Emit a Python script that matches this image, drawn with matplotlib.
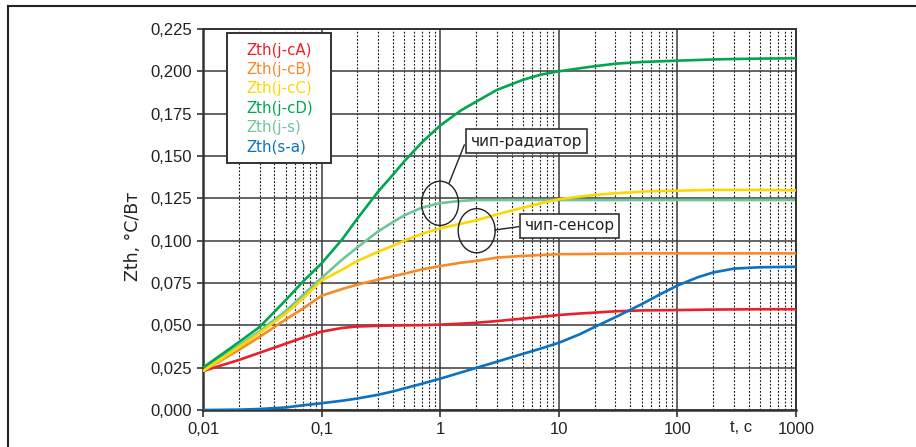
import matplotlib
matplotlib.use("Agg")
import matplotlib.pyplot as plt
from matplotlib.lines import Line2D
from matplotlib.patches import Ellipse, Rectangle
from matplotlib.ticker import FixedLocator, LogLocator, NullFormatter

# ----------------------------------------------------
# Data
# ----------------------------------------------------

t = [0.01, 0.02, 0.03, 0.05, 0.07, 0.1, 0.15, 0.2, 0.3, 0.4, 0.5, 0.7, 1, 1.5,
     2, 3, 5, 7, 10, 15, 20, 30, 50, 70, 100, 150, 200, 300, 500, 1000]

z_jcA = [0.023, 0.0295, 0.0338, 0.0392, 0.0428, 0.0463, 0.0485, 0.0493, 0.0497,
         0.0499, 0.0500, 0.0501, 0.0504, 0.0510, 0.0515, 0.0525, 0.0540, 0.0550,
         0.0561, 0.0570, 0.0575, 0.0583, 0.0588, 0.0589, 0.0590, 0.0592, 0.0593,
         0.0594, 0.0595, 0.0595]
z_jcB = [0.023, 0.0354, 0.0432, 0.0535, 0.0600, 0.0675, 0.0715, 0.0740, 0.0770,
         0.0790, 0.0805, 0.0830, 0.0850, 0.0870, 0.0880, 0.0900, 0.0910, 0.0915,
         0.0920, 0.0921, 0.0922, 0.0923, 0.0925, 0.0925, 0.0925, 0.0925, 0.0925,
         0.0925, 0.0925, 0.0925]
z_jcC = [0.023, 0.0370, 0.0455, 0.0570, 0.0660, 0.0765, 0.0830, 0.0880, 0.0935,
         0.0970, 0.1000, 0.1040, 0.1073, 0.1100, 0.1120, 0.1155, 0.1195, 0.1220,
         0.1245, 0.1260, 0.1270, 0.1280, 0.1290, 0.1293, 0.1295, 0.1298, 0.1300,
         0.1300, 0.1300, 0.1297]
z_jcD = [0.025, 0.0400, 0.0490, 0.0650, 0.0760, 0.0866, 0.1010, 0.1130, 0.1290,
         0.1390, 0.1470, 0.1580, 0.1680, 0.1770, 0.1820, 0.1890, 0.1950, 0.1980,
         0.2000, 0.2018, 0.2030, 0.2045, 0.2055, 0.2059, 0.2063, 0.2067, 0.2070,
         0.2073, 0.2075, 0.2077]
z_js = [0.025, 0.0380, 0.0465, 0.0585, 0.0680, 0.0780, 0.0890, 0.0960, 0.1055,
        0.1110, 0.1150, 0.1195, 0.1222, 0.1235, 0.1240, 0.1240, 0.1240, 0.1240,
        0.1240, 0.1240, 0.1240, 0.1240, 0.1240, 0.1240, 0.1240, 0.1240, 0.1240,
        0.1240, 0.1240, 0.1240]
z_sa = [0.0, 0.0002, 0.0006, 0.0015, 0.0028, 0.0040, 0.0055, 0.0068, 0.0090,
        0.0110, 0.0128, 0.0155, 0.0185, 0.0222, 0.0248, 0.0285, 0.0332, 0.0362,
        0.0397, 0.0447, 0.0490, 0.0548, 0.0625, 0.0680, 0.0735, 0.0785, 0.0812,
        0.0835, 0.0843, 0.0846]

series = [
    ("Zth(j-cA)", z_jcA, "#e8202a", 3),
    ("Zth(j-cB)", z_jcB, "#f68a28", 3),
    ("Zth(j-cC)", z_jcC, "#fcd800", 4),
    ("Zth(j-cD)", z_jcD, "#00a650", 3),
    ("Zth(j-s)", z_js, "#72c598", 2),
    ("Zth(s-a)", z_sa, "#0a72c0", 3),
]

y_ticks = [0.0, 0.025, 0.05, 0.075, 0.1, 0.125, 0.15, 0.175, 0.2, 0.225]
x_ticks = [0.01, 0.1, 1, 10, 100, 1000]
x_labels = ["0,01", "0,1", "1", "10", "100", "1000"]

# ----------------------------------------------------
# Plot
# ----------------------------------------------------

fig = plt.figure(figsize=(9.16, 4.47), dpi=100)
ax = fig.add_axes([203 / 916, 37 / 447, 593 / 916, 381 / 447])

for label, z, color, zo in series:
    ax.plot(t, z, color=color, lw=1.9, label=label, zorder=zo,
            solid_capstyle="butt", solid_joinstyle="round")

ax.set_xscale("log")
ax.set_xlim(0.01, 1000)
ax.set_ylim(0, 0.225)

ax.xaxis.set_major_locator(FixedLocator(x_ticks))
ax.set_xticklabels(x_labels)
ax.xaxis.set_minor_locator(LogLocator(base=10, subs=range(2, 10), numticks=20))
ax.xaxis.set_minor_formatter(NullFormatter())
ax.set_yticks(y_ticks)
ax.set_yticklabels([f"{v:.3f}".replace(".", ",") for v in y_ticks])

ax.tick_params(axis="both", which="major", direction="out", color="#333333",
               width=1.2, labelsize=12, pad=4)
ax.tick_params(axis="x", which="major", length=5)
ax.tick_params(axis="y", which="major", length=4)
ax.tick_params(axis="x", which="minor", length=0)
for lab in ax.get_xticklabels() + ax.get_yticklabels():
    lab.set_fontfamily("Liberation Sans")
    lab.set_color("#222222")

ax.grid(which="major", color="#3a3a3a", lw=1.1, ls="-", zorder=1)
ax.grid(which="minor", axis="x", color="#111111", lw=0.8, ls=(0, (1.6, 1.6)))
ax.set_axisbelow(True)

for sp in ax.spines.values():
    sp.set_color("#333333")
    sp.set_linewidth(1.4)
ax.spines["left"].set_linewidth(1.8)
ax.spines["bottom"].set_linewidth(1.8)

ax.text(-0.118, 0.457, "Zth, °C/Вт", transform=ax.transAxes, rotation=90,
        ha="center", va="center", fontsize=12.5, color="#222222")
ax.text(0.907, -0.045, "t, c", transform=ax.transAxes, ha="center",
        va="center", fontsize=12, color="#222222", family="Liberation Sans")

# legend: framed box with coloured labels only
ax.add_patch(Rectangle((0.0405, 0.6483), 0.1754, 0.3412, transform=ax.transAxes,
                       fc="white", ec="#333333", lw=1.4, zorder=10))
for i, (label, z, color, zo) in enumerate(series):
    ax.text(0.0737, (410 - (50 + 19.34 * i)) / 381, label,
            transform=ax.transAxes, ha="left", va="center", fontsize=10.8,
            color=color, zorder=11)

# annotations
box = dict(boxstyle="square,pad=0.3", fc="white", ec="#333333", lw=1.2)
ax.text(0.5456, 0.706, "чип-радиатор", transform=ax.transAxes, ha="center",
        va="center", fontsize=11, color="#222222", bbox=box, zorder=10)
ax.text(0.618, 0.483, "чип-сенсор", transform=ax.transAxes, ha="center",
        va="center", fontsize=11, color="#222222", bbox=box, zorder=10)

for cx, cy in [(0.3997, 0.5425), (0.4615, 0.4706)]:
    ax.add_patch(Ellipse((cx, cy), 0.0624, 0.116, transform=ax.transAxes,
                         fill=False, ec="#222222", lw=1.0, zorder=9))
ax.plot([0.4153, 0.4406], [0.5966, 0.6955], transform=ax.transAxes,
        color="#222222", lw=1.0, zorder=9)
ax.plot([0.4924, 0.5317], [0.4724, 0.4811], transform=ax.transAxes,
        color="#222222", lw=1.0, zorder=9)

# outer frame (only top and left edges are visible)
fig.add_artist(Line2D([8 / 916, 1], [1 - 6 / 447, 1 - 6 / 447],
                      color="#222222", lw=1.5, transform=fig.transFigure))
fig.add_artist(Line2D([8 / 916, 8 / 916], [0, 1 - 6 / 447],
                      color="#222222", lw=1.5, transform=fig.transFigure))

plt.savefig("out.png", dpi=100)
